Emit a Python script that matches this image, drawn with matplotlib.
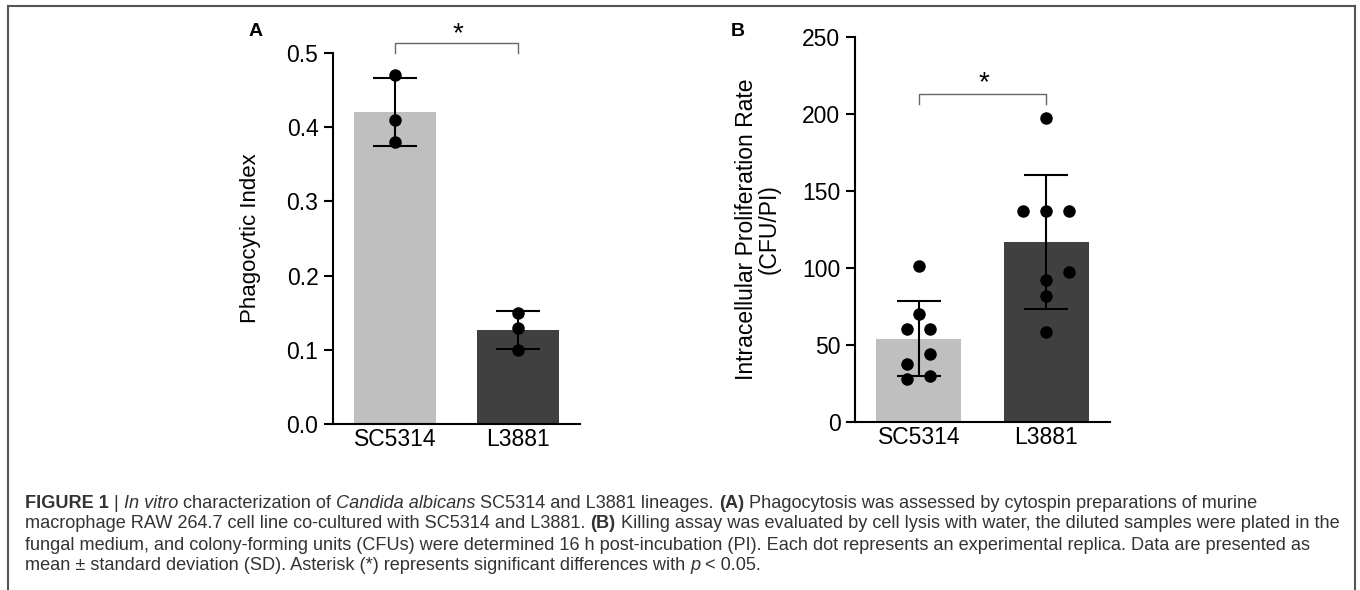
import numpy as np
import matplotlib
matplotlib.use("Agg")
import matplotlib.pyplot as plt
from matplotlib.lines import Line2D

plt.rcParams['font.family'] = ['Liberation Sans', 'DejaVu Sans']

# data
strains = ["SC5314", "L3881"]
phago_sc = [0.47, 0.41, 0.38]
phago_l = [0.15, 0.13, 0.10]
ipr_sc = [101, 70, 60, 60, 44, 37.5, 28, 30]
ipr_l = [197, 136.5, 136.5, 136.5, 97, 92, 81.5, 58]

# horizontal spread of the dots (layout only)
jit_a = [[0, 0, 0], [0, 0, 0]]
jit_b = [[0, 0, -0.09, 0.09, 0.09, -0.09, -0.09, 0.09],
         [0, -0.18, 0, 0.18, 0.18, 0, 0, 0]]

bar_cols = ["#bfbfbf", "#404040"]

W, H = 13.6, 5.9
fig = plt.figure(figsize=(W, H), dpi=100)


def panel(rect, groups, jit, ylim, yticks, fmt, ylabel, ylab_fs, br_y, br_tick, star_y):
    ax = fig.add_axes(rect)
    x = np.arange(len(groups))
    means = [np.mean(g) for g in groups]
    sds = [np.std(g, ddof=1) for g in groups]
    ax.bar(x, means, width=0.667, color=bar_cols, zorder=1)
    ax.errorbar(x, means, yerr=sds, fmt='none', ecolor='black', elinewidth=1.5,
                capsize=16, capthick=1.5, zorder=2)
    for i, g in enumerate(groups):
        ax.scatter(i + np.array(jit[i]), g, s=81, color='black', zorder=3,
                   clip_on=False, linewidths=0)
    ax.set_xlim(-0.5, 1.5)
    ax.set_ylim(*ylim)
    ax.set_yticks(yticks)
    ax.set_yticklabels([fmt.format(v) for v in yticks])
    ax.set_xticks(x)
    ax.set_xticklabels(strains)
    for s in ['top', 'right']:
        ax.spines[s].set_visible(False)
    for s in ['left', 'bottom']:
        ax.spines[s].set_linewidth(1.5)
    ax.tick_params(axis='y', length=6.5, width=1.5, pad=4, labelsize=16.5)
    ax.tick_params(axis='x', length=0, pad=3, labelsize=16.5)
    ax.set_ylabel(ylabel, fontsize=ylab_fs, linespacing=1.0)
    ax.yaxis.set_label_coords(-0.29, 0.5)
    # significance bracket
    ax.plot([0, 0, 1, 1], [br_tick, br_y, br_y, br_tick], color='#666666',
            lw=1, clip_on=False)
    ax.text(0.51, star_y, "*", ha='center', va='center', fontsize=20)
    return ax


panel([333 / 1360, 1 - 424 / 590, 247 / 1360, 371 / 590],
      [phago_sc, phago_l], jit_a, (0, 0.5), [0, 0.1, 0.2, 0.3, 0.4, 0.5],
      "{:.1f}", "Phagocytic Index", 16, 0.514, 0.5, 0.525)

panel([855 / 1360, 1 - 421.7 / 590, 255 / 1360, 385 / 590],
      [ipr_sc, ipr_l], jit_b, (0, 250), [0, 50, 100, 150, 200, 250],
      "{:.0f}", "Intracellular Proliferation Rate\n(CFU/PI)", 16.5, 212.6, 206, 220)

fig.text(256 / 1360, 1 - 32 / 590, "A", fontsize=14, fontweight='bold',
         ha='center', va='center')
fig.text(738 / 1360, 1 - 32 / 590, "B", fontsize=14, fontweight='bold',
         ha='center', va='center')

# frame round the figure
fc = '#555555'
fig.add_artist(Line2D([8 / 1360, 1355 / 1360], [1 - 5.5 / 590, 1 - 5.5 / 590],
                      color=fc, lw=1.5, transform=fig.transFigure))
fig.add_artist(Line2D([8 / 1360, 8 / 1360], [0, 1 - 5.5 / 590],
                      color=fc, lw=1.5, transform=fig.transFigure))
fig.add_artist(Line2D([1355 / 1360, 1355 / 1360], [0, 1 - 5.5 / 590],
                      color=fc, lw=1.5, transform=fig.transFigure))

# caption
N, B, I = 'normal', 'bold', 'italic'
caption = [
    [("FIGURE 1", B), ("|", N), ("In vitro", I), ("characterization of", N),
     ("Candida albicans", I), ("SC5314 and L3881 lineages.", N), ("(A)", B),
     ("Phagocytosis was assessed by cytospin preparations of murine", N)],
    [("macrophage RAW 264.7 cell line co-cultured with SC5314 and L3881.", N),
     ("(B)", B),
     ("Killing assay was evaluated by cell lysis with water, the diluted samples were plated in the", N)],
    [("fungal medium, and colony-forming units (CFUs) were determined 16 h post-incubation (PI). "
      "Each dot represents an experimental replica. Data are presented as", N)],
    [("mean \u00b1 standard deviation (SD). Asterisk (*) represents significant differences with", N),
     ("p", I), ("< 0.05.", N)],
]
cap_y = [503, 524, 545, 566]
cap_col = '#333333'
renderer = fig.canvas.get_renderer()


def seg_width(s, style, fs):
    t = fig.text(0, 0, s, fontsize=fs, fontweight='bold' if style == B else 'normal',
                 fontstyle='italic' if style == I else 'normal')
    w = t.get_window_extent(renderer).width
    t.remove()
    return w


def line_width(segs, fs):
    sp = seg_width("x x", N, fs) - seg_width("xx", N, fs)
    return sum(seg_width(s, st, fs) for s, st in segs) + sp * (len(segs) - 1)


fs = 11
fs = fs * 1310 / line_width(caption[1], fs)

space = seg_width("x x", N, fs) - seg_width("xx", N, fs)
for segs, yy in zip(caption, cap_y):
    x = 25.0
    for s, st in segs:
        fig.text(x / 1360, 1 - yy / 590, s, fontsize=fs, color=cap_col,
                 fontweight='bold' if st == B else 'normal',
                 fontstyle='italic' if st == I else 'normal',
                 ha='left', va='center')
        x += seg_width(s, st, fs) + space

fig.savefig("out.png", dpi=100)
